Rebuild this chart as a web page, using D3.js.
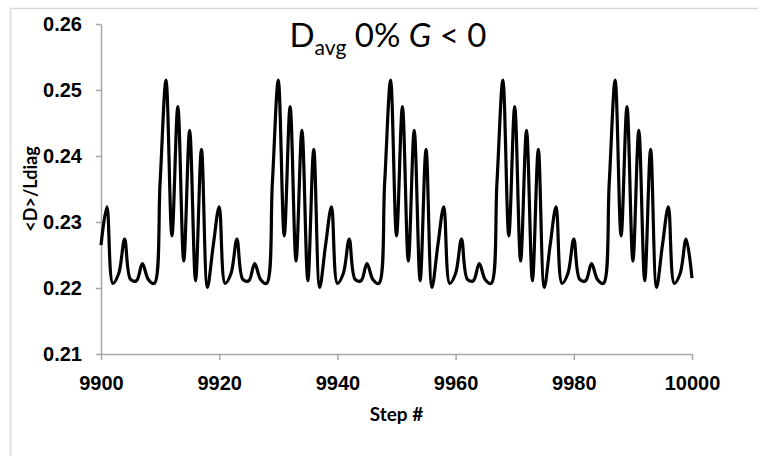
<!DOCTYPE html>
<html>
<head>
<meta charset="utf-8">
<script src="https://cdn.jsdelivr.net/npm/d3@7"></script>
<style>
  html, body { margin: 0; padding: 0; background: #fff; }
  svg { display: block; font-family: Lato, "Open Sans", sans-serif; }
</style>
</head>
<body>
<svg id="chart" width="758" height="456"></svg>
<script>
// step numbers 9900..10000, one reading per step
const stepStart = 9900;
const stepEnd = 10000;
const dRatio = [
  0.2265, 0.2323, 0.2207, 0.2222, 0.2274, 0.2213, 0.2211, 0.2237, 0.2213, 0.2207, 0.2360,
  0.2515, 0.2279, 0.2475, 0.2241, 0.2439, 0.2211, 0.2410, 0.2201, 0.2265, 0.2323, 0.2207, 0.2222, 0.2274, 0.2213, 0.2211, 0.2237, 0.2213, 0.2207, 0.2360,
  0.2515, 0.2279, 0.2475, 0.2241, 0.2439, 0.2211, 0.2410, 0.2201, 0.2265, 0.2323, 0.2207, 0.2222, 0.2274, 0.2213, 0.2211, 0.2237, 0.2213, 0.2207, 0.2360,
  0.2515, 0.2279, 0.2475, 0.2241, 0.2439, 0.2211, 0.2410, 0.2201, 0.2265, 0.2323, 0.2207, 0.2222, 0.2274, 0.2213, 0.2211, 0.2237, 0.2213, 0.2207, 0.2360,
  0.2515, 0.2279, 0.2475, 0.2241, 0.2439, 0.2211, 0.2410, 0.2201, 0.2265, 0.2323, 0.2207, 0.2222, 0.2274, 0.2213, 0.2211, 0.2237, 0.2213, 0.2207, 0.2360,
  0.2515, 0.2279, 0.2475, 0.2241, 0.2439, 0.2211, 0.2410, 0.2201, 0.2265, 0.2323, 0.2207, 0.2222, 0.2274, 0.2215
];
const xTicks = [9900, 9920, 9940, 9960, 9980, 10000];
const yTicks = [0.21, 0.22, 0.23, 0.24, 0.25, 0.26];

const data = dRatio.map((v, i) => ({ step: stepStart + i, value: v }));

const svg = d3.select("#chart");
const margin = { top: 24, right: 66, bottom: 102, left: 101 };
const width = 758, height = 456;

// chart frame (runs off the right/bottom edge like the source)
svg.append("rect")
  .attr("x", 10.5).attr("y", 8.5)
  .attr("width", 800).attr("height", 500)
  .attr("fill", "none")
  .attr("stroke", "#d9d9d9")
  .attr("stroke-width", 1.5);

const x = d3.scaleLinear().domain([stepStart, stepEnd]).range([margin.left, width - margin.right]);
const y = d3.scaleLinear().domain([0.21, 0.26]).range([height - margin.bottom, margin.top]);

const axisColor = "#a6a6a6";

// Y axis
const gy = svg.append("g")
  .attr("transform", `translate(${margin.left},0)`)
  .call(d3.axisLeft(y).tickValues(yTicks).tickFormat(d3.format(".2f")).tickSize(5).tickSizeOuter(0));
gy.selectAll("text")
  .attr("x", -19)
  .attr("fill", "#000")
  .style("font-size", "20px")
  .style("font-weight", "bold");

// X axis
const gx = svg.append("g")
  .attr("transform", `translate(0,${y(0.21)})`)
  .call(d3.axisBottom(x).tickValues(xTicks).tickFormat(d3.format("d")).tickSize(6).tickSizeOuter(0));
gx.selectAll("text")
  .attr("y", 22)
  .attr("fill", "#000")
  .style("font-size", "20px")
  .style("font-weight", "bold");

svg.selectAll(".domain, .tick line").attr("stroke", axisColor).attr("stroke-width", 1.5);

// the series, smoothed like the spreadsheet line
const line = d3.line()
  .x(d => x(d.step))
  .y(d => y(d.value))
  .curve(d3.curveCatmullRom.alpha(0.5));

svg.append("path")
  .datum(data)
  .attr("fill", "none")
  .attr("stroke", "#000")
  .attr("stroke-width", 3.2)
  .attr("stroke-linejoin", "round")
  .attr("d", line);

// axis titles
svg.append("text")
  .attr("x", (margin.left + width - margin.right) / 2)
  .attr("y", 421)
  .attr("text-anchor", "middle")
  .style("font-size", "19px")
  .style("font-weight", "bold")
  .text("Step #");

svg.append("text")
  .attr("transform", `translate(37,${(margin.top + height - margin.bottom) / 2}) rotate(-90)`)
  .attr("text-anchor", "middle")
  .style("font-size", "18px")
  .style("font-weight", "bold")
  .text("<D>/Ldiag");

// title: D_avg 0% G < 0
const title = svg.append("text")
  .attr("x", 388)
  .attr("y", 47)
  .attr("text-anchor", "middle")
  .style("font-size", "33px");
title.append("tspan").text("D");
title.append("tspan").attr("dy", 8).style("font-size", "21px").text("avg");
title.append("tspan").attr("dy", -8).text(" 0% ");
title.append("tspan").style("font-style", "italic").text("G");
title.append("tspan").text(" < 0");
</script>
</body>
</html>
